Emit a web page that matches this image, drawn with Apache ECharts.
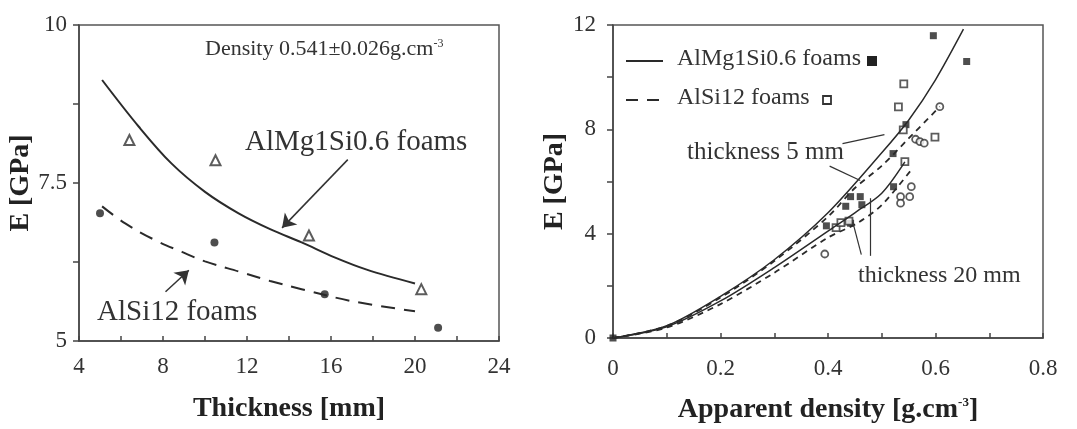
<!DOCTYPE html>
<html>
<head>
<meta charset="utf-8">
<script src="https://cdn.jsdelivr.net/npm/echarts@6/dist/echarts.min.js"></script>
<style>
html, body { margin: 0; padding: 0; background: #fff; }
#main { width: 1077px; height: 429px; }
</style>
</head>
<body>
<div id="main"></div>
<script>
// ---- left panel: E vs thickness ----
var thickAlMg = [6.4, 10.5, 14.95, 20.3];
var eAlMg = [8.18, 7.86, 6.67, 5.82];
var thickAlSi = [5.0, 10.45, 15.7, 21.1];
var eAlSi = [7.02, 6.56, 5.74, 5.21];
var fitThickAlMg = [5.1, 6.85, 8.4, 10, 11.6, 13.1, 14.6, 16.2, 17.7, 20];
var fitEAlMg = [9.13, 8.39, 7.81, 7.36, 7.02, 6.77, 6.56, 6.32, 6.13, 5.91];
var fitThickAlSi = [5.1, 6.2, 7.6, 8.9, 10, 11.6, 13.1, 14.6, 17, 20];
var fitEAlSi = [7.13, 6.86, 6.6, 6.41, 6.26, 6.1, 5.95, 5.82, 5.63, 5.47];
var arrowAlMg = [[16.8, 7.87], [13.67, 6.79]];
var arrowAlSi = [[8.12, 5.78], [9.23, 6.12]];

// ---- right panel: E vs apparent density ----
var densAlMg = [0, 0.596, 0.658, 0.545, 0.521, 0.442, 0.46, 0.433, 0.463, 0.442, 0.522, 0.397];
var eDensAlMg = [0, 11.59, 10.6, 8.18, 7.07, 5.42, 5.42, 5.05, 5.11, 4.4, 5.8, 4.3];
var densAlSi = [0.541, 0.531, 0.54, 0.599, 0.543, 0.415, 0.424, 0.439];
var eDensAlSi = [9.74, 8.86, 7.98, 7.7, 6.76, 4.23, 4.42, 4.48];
var densOther = [0.608, 0.563, 0.571, 0.579, 0.394, 0.555, 0.535, 0.552, 0.535];
var eDensOther = [8.87, 7.62, 7.53, 7.47, 3.22, 5.8, 5.42, 5.42, 5.17];

var curveX5Mg = [0, 0.1, 0.2, 0.3, 0.4, 0.5, 0.55, 0.6, 0.652];
var curveE5Mg = [0, 0.47, 1.6, 3.0, 4.8, 7.1, 8.35, 9.9, 11.84];
var curveX5Si = [0, 0.1, 0.2, 0.3, 0.4, 0.45, 0.5, 0.55, 0.608];
var curveE5Si = [0, 0.46, 1.55, 2.95, 4.65, 5.75, 6.6, 7.65, 8.87];
var curveX20Mg = [0, 0.1, 0.2, 0.3, 0.4, 0.45, 0.5, 0.543];
var curveE20Mg = [0, 0.43, 1.42, 2.7, 4.1, 4.8, 5.55, 6.75];
var curveX20Si = [0, 0.1, 0.2, 0.3, 0.4, 0.456, 0.5, 0.555];
var curveE20Si = [0, 0.4, 1.3, 2.5, 3.85, 4.42, 5.1, 6.45];

var pointer5 = [[[0.427, 7.45], [0.505, 7.8]], [[0.403, 6.59], [0.46, 6.04]]];
var pointer20 = [[[0.462, 3.2], [0.446, 4.45]], [[0.478, 3.15], [0.478, 5.36]]];

function zip(xs, ys) {
	var out = [];
	for (var i = 0; i < xs.length; i++) {
		out.push([xs[i], ys[i]]);
	}
	return out;
}

function segs(list) {
	var out = [];
	for (var i = 0; i < list.length; i++) {
		out.push([{ coord: list[i][0] }, { coord: list[i][1] }]);
	}
	return out;
}

var serif = '"Liberation Serif", "Times New Roman", serif';
var ink = '#2a2a2a';
var txt = '#333';

var axisCommon = {
	axisLine: { show: true, onZero: false, lineStyle: { color: '#444', width: 1.5 } },
	splitLine: { show: false },
	nameTextStyle: { fontFamily: serif, fontWeight: 'bold', fontSize: 28, color: '#222' }
};

function axis(extra) {
	var o = JSON.parse(JSON.stringify(axisCommon));
	for (var k in extra) o[k] = extra[k];
	return o;
}

var chart = echarts.init(document.getElementById('main'));

var option = {
	animation: false,
	backgroundColor: '#fff',
	grid: [
		{ left: 79, top: 25, width: 420, height: 316, show: true, borderColor: '#555', borderWidth: 1.5 },
		{ left: 613, top: 25, width: 430, height: 319, show: true, borderColor: '#555', borderWidth: 1.5 }
	],
	xAxis: [
		axis({
			gridIndex: 0, type: 'value', min: 4, max: 24, interval: 2,
			name: 'Thickness [mm]', nameLocation: 'middle', nameGap: 54,
			axisTick: { inside: true, length: 5, lineStyle: { color: '#444', width: 1.5 } },
			axisLabel: {
				margin: 14, fontFamily: serif, fontSize: 23, color: txt,
				formatter: function(v) { return v % 4 === 0 ? String(v) : ''; }
			}
		}),
		axis({
			gridIndex: 1, type: 'value', min: 0, max: 0.8, interval: 0.1,
			name: 'Apparent density [g.cm{s|-3}]', nameLocation: 'middle', nameGap: 58,
			axisTick: { inside: true, length: 5, lineStyle: { color: '#444', width: 1.5 } },
			axisLabel: {
				margin: 19, fontFamily: serif, fontSize: 23, color: txt,
				formatter: function(v) {
					var n = Math.round(v * 10);
					if (n % 2 !== 0) return '';
					return n === 0 ? '0' : (n / 10).toFixed(1);
				}
			}
		})
	],
	yAxis: [
		axis({
			gridIndex: 0, type: 'value', min: 5, max: 10, interval: 1.25,
			name: 'E [GPa]', nameLocation: 'middle', nameGap: 44,
			axisTick: { inside: false, length: 6, lineStyle: { color: '#444', width: 1.5 } },
			axisLabel: {
				margin: 12, fontFamily: serif, fontSize: 23, color: txt,
				formatter: function(v) { return (v === 5 || v === 7.5 || v === 10) ? String(v) : ''; }
			}
		}),
		axis({
			gridIndex: 1, type: 'value', min: 0, max: 12, interval: 2,
			name: 'E [GPa]', nameLocation: 'middle', nameGap: 33,
			axisTick: { inside: false, length: 6, lineStyle: { color: '#444', width: 1.5 } },
			axisLabel: {
				margin: 17, fontFamily: serif, fontSize: 23, color: txt,
				formatter: function(v) { return v % 4 === 0 ? String(v) : ''; }
			}
		})
	],
	series: [
		{
			name: 'AlMg1Si0.6 fit', type: 'line', xAxisIndex: 0, yAxisIndex: 0,
			data: zip(fitThickAlMg, fitEAlMg), smooth: 0.35, showSymbol: false,
			lineStyle: { color: ink, width: 2 },
			markLine: {
				silent: true, symbol: ['none', 'arrow'], symbolSize: 13,
				label: { show: false }, lineStyle: { color: '#333', width: 1.5, type: 'solid' },
				data: [
					[{ coord: arrowAlMg[0] }, { coord: arrowAlMg[1] }],
					[{ coord: arrowAlSi[0] }, { coord: arrowAlSi[1] }]
				]
			}
		},
		{
			name: 'AlSi12 fit', type: 'line', xAxisIndex: 0, yAxisIndex: 0,
			data: zip(fitThickAlSi, fitEAlSi), smooth: 0.35, showSymbol: false,
			lineStyle: { color: ink, width: 2, type: [14, 9] }
		},
		{
			name: 'AlMg1Si0.6', type: 'scatter', xAxisIndex: 0, yAxisIndex: 0,
			data: zip(thickAlMg, eAlMg), symbol: 'triangle', symbolSize: 10,
			itemStyle: { color: '#fff', borderColor: '#333', borderWidth: 2 }
		},
		{
			name: 'AlSi12', type: 'scatter', xAxisIndex: 0, yAxisIndex: 0,
			data: zip(thickAlSi, eAlSi), symbol: 'circle', symbolSize: 8,
			itemStyle: { color: '#222' }
		},
		{
			name: 'AlMg 5 mm', type: 'line', xAxisIndex: 1, yAxisIndex: 1,
			data: zip(curveX5Mg, curveE5Mg), smooth: 0.3, showSymbol: false,
			lineStyle: { color: ink, width: 1.5 },
			markLine: {
				silent: true, symbol: ['none', 'none'], label: { show: false },
				lineStyle: { color: '#333', width: 1.2, type: 'solid' },
				data: segs(pointer5).concat(segs(pointer20))
			}
		},
		{
			name: 'AlSi 5 mm', type: 'line', xAxisIndex: 1, yAxisIndex: 1,
			data: zip(curveX5Si, curveE5Si), smooth: 0.3, showSymbol: false,
			lineStyle: { color: ink, width: 1.8, type: [6, 5] }
		},
		{
			name: 'AlMg 20 mm', type: 'line', xAxisIndex: 1, yAxisIndex: 1,
			data: zip(curveX20Mg, curveE20Mg), smooth: 0.3, showSymbol: false,
			lineStyle: { color: ink, width: 1.5 }
		},
		{
			name: 'AlSi 20 mm', type: 'line', xAxisIndex: 1, yAxisIndex: 1,
			data: zip(curveX20Si, curveE20Si), smooth: 0.3, showSymbol: false,
			lineStyle: { color: ink, width: 1.8, type: [6, 5] }
		},
		{
			name: 'AlMg1Si0.6 foams', type: 'scatter', xAxisIndex: 1, yAxisIndex: 1,
			data: zip(densAlMg, eDensAlMg), symbol: 'rect', symbolSize: 7,
			itemStyle: { color: '#222' }
		},
		{
			name: 'AlSi12 foams', type: 'scatter', xAxisIndex: 1, yAxisIndex: 1,
			data: zip(densAlSi, eDensAlSi), symbol: 'rect', symbolSize: 7,
			itemStyle: { color: '#fff', borderColor: '#333', borderWidth: 1.8 }
		},
		{
			name: 'other', type: 'scatter', xAxisIndex: 1, yAxisIndex: 1,
			data: zip(densOther, eDensOther), symbol: 'circle', symbolSize: 7,
			itemStyle: { color: '#fff', borderColor: '#333', borderWidth: 1.8 }
		}
	],
	graphic: [
		{
			type: 'text', left: 205, top: 38,
			style: {
				text: '{a|Density 0.541±0.026g.cm}{s|-3}',
				rich: {
					a: { fontFamily: serif, fontSize: 22, fill: txt },
					s: { fontFamily: serif, fontSize: 12, fill: txt, verticalAlign: 'top', padding: [0, 0, 10, 0] }
				}
			}
		},
		{ type: 'text', left: 245, top: 128, style: { text: 'AlMg1Si0.6 foams', font: '29px ' + serif, fill: txt } },
		{ type: 'text', left: 97, top: 298, style: { text: 'AlSi12 foams', font: '29px ' + serif, fill: txt } },
		{ type: 'line', shape: { x1: 626, y1: 61, x2: 663, y2: 61 }, style: { stroke: ink, lineWidth: 1.8 } },
		{ type: 'text', left: 677, top: 47, style: { text: 'AlMg1Si0.6 foams', font: '24px ' + serif, fill: txt } },
		{ type: 'rect', shape: { x: 867, y: 56, width: 10, height: 10 }, style: { fill: '#222' } },
		{ type: 'line', shape: { x1: 626, y1: 100, x2: 663, y2: 100 }, style: { stroke: ink, lineWidth: 1.8, lineDash: [12, 9] } },
		{ type: 'text', left: 677, top: 86, style: { text: 'AlSi12 foams', font: '24px ' + serif, fill: txt } },
		{ type: 'rect', shape: { x: 823, y: 96, width: 8, height: 8 }, style: { fill: '#fff', stroke: '#333', lineWidth: 1.8 } },
		{ type: 'text', left: 687, top: 140, style: { text: 'thickness 5 mm', font: '25px ' + serif, fill: txt } },
		{ type: 'text', left: 858, top: 264, style: { text: 'thickness 20 mm', font: '24px ' + serif, fill: txt } }
	]
};

option.xAxis[1].nameTextStyle.rich = {
	s: { fontFamily: serif, fontWeight: 'bold', fontSize: 13, color: '#222', verticalAlign: 'top', padding: [0, 0, 12, 0] }
};

chart.setOption(option);
</script>
</body>
</html>
